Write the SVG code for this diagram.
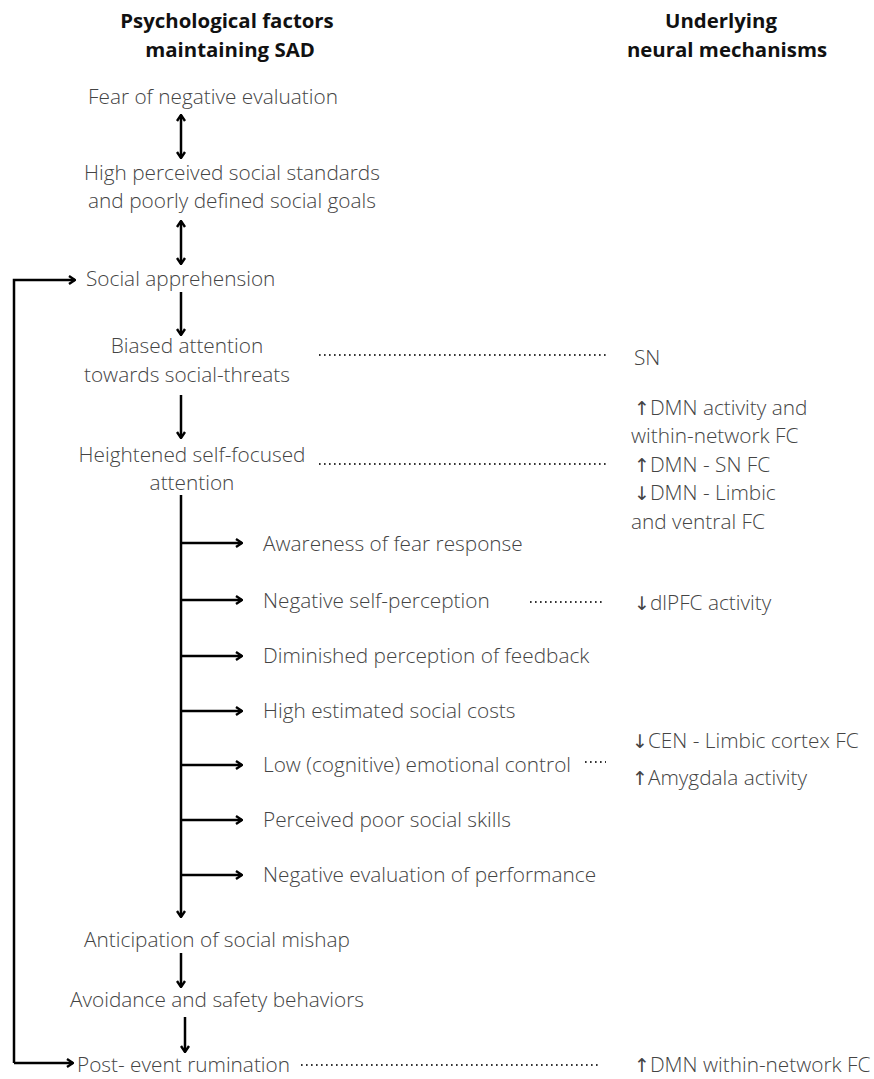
<svg xmlns="http://www.w3.org/2000/svg" width="874" height="1079" viewBox="0 0 874 1079">
<defs>
<marker id="ah" viewBox="0 0 10 10" refX="9" refY="5" markerWidth="10" markerHeight="10" markerUnits="userSpaceOnUse" orient="auto-start-reverse">
<path d="M3,1 L9,5 L3,9" fill="none" stroke="#000" stroke-width="2.4"/>
</marker>
<style>
.h{font-family:"Open Sans","Liberation Sans",sans-serif;font-weight:700;font-size:20.4px;fill:#111;text-anchor:middle}
.t{font-family:"Open Sans","Liberation Sans",sans-serif;font-weight:300;font-size:20.8px;fill:#444}
.c{text-anchor:middle}
.ar{font-family:"DejaVu Sans",sans-serif;font-weight:400;font-size:19px}
.ln{fill:none;stroke:#000;stroke-width:2.5}
.a{marker-end:url(#ah)}
.b{marker-start:url(#ah);marker-end:url(#ah)}
.d{fill:none;stroke:#333;stroke-width:2;stroke-dasharray:1.6 3.4}
</style>
</defs>
<rect width="874" height="1079" fill="#fff"/>
<g id="headings">
<text class="h" x="227" y="28">Psychological factors</text>
<text class="h" x="230" y="57">maintaining SAD</text>
<text class="h" x="721" y="28">Underlying</text>
<text class="h" x="727" y="57">neural mechanisms</text>
</g>
<g id="n-fear"><text class="t c" x="213" y="104">Fear of negative evaluation</text></g>
<g id="n-standards"><text class="t c" x="232" y="180">High perceived social standards</text><text class="t c" x="232" y="208">and poorly defined social goals</text></g>
<g id="n-apprehension"><text class="t" x="86" y="286">Social apprehension</text></g>
<g id="n-biased"><text class="t c" x="187" y="353">Biased attention</text><text class="t c" x="187" y="382">towards social-threats</text></g>
<g id="n-heightened"><text class="t c" x="192" y="462">Heightened self-focused</text><text class="t c" x="192" y="490">attention</text></g>
<g id="n-awareness"><text class="t" x="263" y="551">Awareness of fear response</text></g>
<g id="n-selfperception"><text class="t" x="263" y="608">Negative self-perception</text></g>
<g id="n-feedback"><text class="t" x="263" y="663">Diminished perception of feedback</text></g>
<g id="n-costs"><text class="t" x="263" y="718">High estimated social costs</text></g>
<g id="n-control"><text class="t" x="263" y="772">Low (cognitive) emotional control</text></g>
<g id="n-skills"><text class="t" x="263" y="827">Perceived poor social skills</text></g>
<g id="n-performance"><text class="t" x="263" y="882">Negative evaluation of performance</text></g>
<g id="n-anticipation"><text class="t c" x="217" y="947">Anticipation of social mishap</text></g>
<g id="n-avoidance"><text class="t c" x="217" y="1007">Avoidance and safety behaviors</text></g>
<g id="n-rumination"><text class="t" x="77" y="1072">Post- event rumination</text></g>
<g id="m-sn"><text class="t" x="634" y="365">SN</text></g>
<g id="m-dmn">
<text class="t" x="634" y="415"><tspan class="ar">↑</tspan>DMN activity and</text>
<text class="t" x="631" y="443">within-network FC</text>
<text class="t" x="634" y="472"><tspan class="ar">↑</tspan>DMN - SN FC</text>
<text class="t" x="634" y="500"><tspan class="ar">↓</tspan>DMN - Limbic</text>
<text class="t" x="631" y="529">and ventral FC</text>
</g>
<g id="m-dlpfc"><text class="t" x="634" y="610"><tspan class="ar">↓</tspan>dlPFC activity</text></g>
<g id="m-cen">
<text class="t" x="632" y="748"><tspan class="ar">↓</tspan>CEN - Limbic cortex FC</text>
<text class="t" x="632" y="785"><tspan class="ar">↑</tspan>Amygdala activity</text>
</g>
<g id="m-rumination"><text class="t" x="634" y="1072"><tspan class="ar">↑</tspan>DMN within-network FC</text></g>
<g id="connectors">
<line class="ln b" x1="181" y1="115" x2="181" y2="158"/>
<line class="ln b" x1="181" y1="221" x2="181" y2="264"/>
<line class="ln a" x1="181" y1="292" x2="181" y2="335"/>
<line class="ln a" x1="181" y1="395" x2="181" y2="438"/>
<line class="ln a" x1="181" y1="495" x2="181" y2="917"/>
<line class="ln a" x1="181" y1="543" x2="242" y2="543"/>
<line class="ln a" x1="181" y1="600" x2="242" y2="600"/>
<line class="ln a" x1="181" y1="656" x2="242" y2="656"/>
<line class="ln a" x1="181" y1="711" x2="242" y2="711"/>
<line class="ln a" x1="181" y1="765" x2="242" y2="765"/>
<line class="ln a" x1="181" y1="820" x2="242" y2="820"/>
<line class="ln a" x1="181" y1="875" x2="242" y2="875"/>
<line class="ln a" x1="181" y1="953" x2="181" y2="987"/>
<line class="ln a" x1="185" y1="1017" x2="185" y2="1052"/>
<polyline class="ln a" points="14,1063 14,280 75,280"/>
<line class="ln a" x1="14" y1="1063" x2="73" y2="1063"/>
<line class="d" x1="319" y1="355" x2="606" y2="355"/>
<line class="d" x1="319" y1="464" x2="606" y2="464"/>
<line class="d" x1="530" y1="602" x2="605" y2="602"/>
<line class="d" x1="585" y1="762" x2="606" y2="762"/>
<line class="d" x1="301" y1="1065" x2="601" y2="1065"/>
</g>
</svg>
